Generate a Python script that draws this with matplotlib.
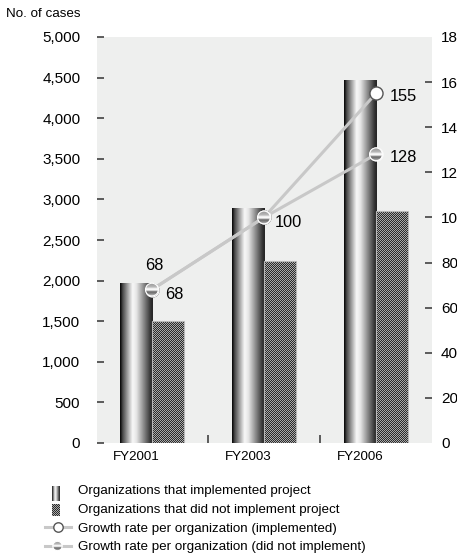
import numpy as np
import matplotlib
matplotlib.use('Agg')
import matplotlib.pyplot as plt
from matplotlib.colors import ListedColormap
from matplotlib.patches import Circle, Rectangle

# --- data -------------------------------------------------------------
years = ['FY2001', 'FY2003', 'FY2006']
cases_implemented = [1960, 2890, 4470]
cases_not_implemented = [1500, 2240, 2860]
growth_implemented = [68, 100, 155]
growth_not_implemented = [68, 100, 128]
left_ticks = [0, 500, 1000, 1500, 2000, 2500, 3000, 3500, 4000, 4500, 5000]
right_ticks = [0, 20, 40, 60, 80, 100, 120, 140, 160, 180]
legend_labels = ['Organizations that implemented project',
                 'Organizations that did not implement project',
                 'Growth rate per organization (implemented)',
                 'Growth rate per organization (did not implement)']

# --- look -------------------------------------------------------------
W, H, DPI = 457, 558, 100
FONT = ['Liberation Sans', 'DejaVu Sans']
BG = '#eeefee'
LINE = '#c8c8c8'
TICK = '#333333'

# metallic cylinder shading across a bar, and across the round marker
bar_shade = np.interp(np.linspace(0, 1, 64),
                      [0, 0.08, 0.38, 0.5, 0.75, 0.95, 1],
                      [0.02, 0.3, 0.97, 0.9, 0.5, 0.18, 0.15])[None, :]
ball_shade = np.interp(np.linspace(0, 1, 32),
                       [0, 0.3, 0.45, 0.55, 0.68, 0.85, 1],
                       [0.6, 0.72, 1.0, 0.95, 0.4, 0.55, 0.8])[:, None]
checker_cmap = ListedColormap(['#2b2b2b', '#a9a9a9'])

fig = plt.figure(figsize=(W / DPI, H / DPI), dpi=DPI)
ax = fig.add_axes([97 / W, 1 - 443 / H, 335 / W, 406 / H])
ax.set_facecolor(BG)
for s in ax.spines.values():
    s.set_visible(False)

x = np.arange(len(years))
bw = 0.286
ax.set_xlim(-0.49, 2.5)
ax.set_ylim(0, 5000)

bars_a = ax.bar(x - bw / 2, cases_implemented, bw, color='none', linewidth=0)
bars_b = ax.bar(x + bw / 2, cases_not_implemented, bw, color='none', linewidth=0)

for r in bars_a:
    x0, y0, w, h = r.get_x(), r.get_y(), r.get_width(), r.get_height()
    ax.imshow(bar_shade, cmap='gray', vmin=0, vmax=1, aspect='auto',
              extent=(x0, x0 + w, y0, y0 + h), interpolation='bilinear', zorder=2)

# the hatched bars: a one-pixel checkerboard snapped to the pixel grid
inv = ax.transData.inverted()
for r in bars_b:
    x0, y0, w, h = r.get_x(), r.get_y(), r.get_width(), r.get_height()
    p0 = np.round(ax.transData.transform((x0, y0)))
    p1 = np.round(ax.transData.transform((x0 + w, y0 + h)))
    nx, ny = int(p1[0] - p0[0]), int(p1[1] - p0[1])
    d0, d1 = inv.transform(p0), inv.transform(p1)
    chk = np.indices((ny, nx)).sum(axis=0) % 2
    ax.imshow(chk, cmap=checker_cmap, vmin=0, vmax=1, aspect='auto',
              extent=(d0[0], d1[0], d0[1], d1[1]), interpolation='nearest', zorder=2)
    ax.add_patch(Rectangle((x0, y0), w, h, fc='none', ec='#b8b8b8', lw=0.8, zorder=3))

ax.set_xlim(-0.49, 2.5)
ax.set_ylim(0, 5000)

ax.set_yticks(left_ticks)
ax.set_yticklabels([f'{v:,}' for v in left_ticks], fontsize=11, family=FONT)
ax.tick_params(axis='y', direction='in', length=5, width=1.1, color=TICK, pad=12)
for t in (ax.yaxis.get_major_ticks()[0], ax.yaxis.get_major_ticks()[-1]):
    t.tick1line.set_visible(False)

ax.set_xticks(x - bw / 2)
ax.set_xticklabels(years, fontsize=9.6, family=FONT)
ax.set_xticks([0.5, 1.5], minor=True)
ax.tick_params(axis='x', which='major', length=0, pad=6)
ax.tick_params(axis='x', which='minor', direction='in', length=5.8, width=1.1, color=TICK)

# --- growth rate lines on the right-hand scale -------------------------
ax2 = ax.twinx()
for s in ax2.spines.values():
    s.set_visible(False)
ax2.set_ylim(0, 180)
ax2.set_yticks(right_ticks)
ax2.set_yticklabels([str(v) for v in right_ticks], fontsize=11, family=FONT)
ax2.tick_params(axis='y', direction='in', length=5, width=1.1, color=TICK, pad=6.5)
for t in (ax2.yaxis.get_major_ticks()[0], ax2.yaxis.get_major_ticks()[-1]):
    t.tick2line.set_visible(False)

ax2.plot(x, growth_implemented, color=LINE, lw=2.2, marker='o', ms=9.4,
         mfc='white', mec='#555555', mew=1.0, zorder=3)
ax2.plot(x, growth_not_implemented, color=LINE, lw=2.2, marker='o', ms=9.4,
         mfc='#9a9a9a', mec='white', mew=0.8, zorder=4)

label_offsets_a = [(2, 24, 'center'), (11, -5, 'left'), (14, -3, 'left')]
label_offsets_b = [(22, -5, 'center'), None, (14, -3, 'left')]
for xs, vals, offs in ((x, growth_implemented, label_offsets_a),
                       (x, growth_not_implemented, label_offsets_b)):
    for xi, v, o in zip(xs, vals, offs):
        if o is None:
            continue
        ax2.annotate(str(v), (xi, v), xytext=(o[0], o[1]), textcoords='offset pixels',
                     ha=o[2], va='center', fontsize=11.8, family=FONT, zorder=5)

# --- pixel-space overlay for shaded markers, legend and axis title -----
ov = fig.add_axes([0, 0, 1, 1])
ov.set_xlim(0, W)
ov.set_ylim(H, 0)
ov.axis('off')
ov.patch.set_alpha(0)


def shaded_ball(cx, cy, r):
    im = ov.imshow(ball_shade, cmap='gray', vmin=0, vmax=1, aspect='auto',
                   extent=(cx - r, cx + r, cy + r, cy - r), interpolation='bilinear', zorder=5)
    im.set_clip_path(Circle((cx, cy), r, transform=ov.transData))
    ov.add_patch(Circle((cx, cy), r, fc='none', ec='white', lw=0.8, zorder=6))


for xi, v in zip(x, growth_not_implemented):
    px, py = ax2.transData.transform((xi, v))
    shaded_ball(px, H - py, 6.4)

ov.text(80, 14, 'No. of cases', ha='right', va='center', fontsize=9.6, family=FONT)

rows = [494, 513, 532, 550]
for y, lab in zip(rows, legend_labels):
    ov.text(78, y, lab, ha='left', va='baseline', fontsize=9.6, family=FONT)

ov.imshow(bar_shade, cmap='gray', vmin=0, vmax=1, aspect='auto',
          extent=(52, 60, 501, 486), interpolation='bilinear', zorder=4)
chk = np.indices((12, 8)).sum(axis=0) % 2
ov.imshow(chk, cmap=checker_cmap, vmin=0, vmax=1, aspect='auto',
          extent=(52, 60, 516, 504), interpolation='nearest', zorder=4)
for y in (rows[2] - 5, rows[3] - 4):
    ov.plot([45, 71], [y, y], color=LINE, lw=2.2, zorder=4)
ov.plot([57.5], [rows[2] - 5], marker='o', ms=6.8, mfc='white', mec='#555555', mew=1.0, zorder=5)
shaded_ball(57.5, rows[3] - 4, 4.7)

fig.savefig('out.png', dpi=DPI)
